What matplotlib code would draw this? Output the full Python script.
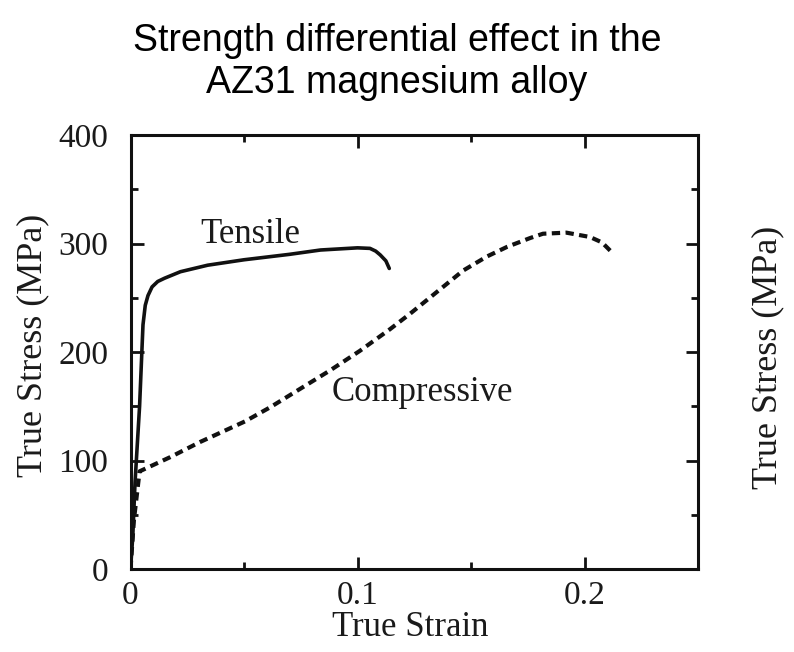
import matplotlib
matplotlib.use("Agg")
import matplotlib.pyplot as plt
from matplotlib.ticker import MultipleLocator

# True stress-strain data for AZ31 magnesium alloy
tensile_strain = [0.0, 0.001, 0.002, 0.004, 0.0055, 0.0065, 0.0077, 0.0095, 0.012,
                  0.015, 0.022, 0.034, 0.050, 0.070, 0.0837, 0.1000, 0.1055,
                  0.108, 0.110, 0.1125, 0.114]
tensile_stress = [0, 30, 80, 150, 225, 243, 252, 260, 265,
                  268, 274, 280, 285, 290, 294, 296, 295.5,
                  293, 289.5, 284, 277]

compressive_strain = [0.0, 0.0015, 0.004, 0.0174, 0.0306, 0.0504, 0.0615, 0.0747,
                      0.0879, 0.101, 0.1143, 0.123, 0.1377, 0.1465, 0.157, 0.166,
                      0.176, 0.1817, 0.192, 0.2024, 0.2077, 0.212]
compressive_stress = [0, 45, 90, 103, 117, 136, 149, 166,
                      183, 201, 221, 235, 260, 275, 288, 297,
                      305, 309, 310, 306, 301, 292]

x_ticks = [0, 0.1, 0.2]
x_tick_labels = ["0", "0.1", "0.2"]
y_ticks = [0, 100, 200, 300, 400]
y_tick_labels = ["0", "100", "200", "300", "400"]

W, H = 794, 652
fig = plt.figure(figsize=(W / 100, H / 100), dpi=100)
serif = "Liberation Serif"
ink = "#1a1a1a"

ax = fig.add_axes([130.5 / W, 1 - 569 / H, (698 - 130.5) / W, (569 - 135) / H])
ax.plot(tensile_strain, tensile_stress, color="#111111", lw=2.6,
        solid_capstyle="round", solid_joinstyle="round")
ax.plot(compressive_strain, compressive_stress, color="#111111", lw=3.0,
        linestyle=(0, (2.0, 1.3)))

ax.set_xlim(0, 0.25)
ax.set_ylim(0, 400)
ax.set_xticks(x_ticks)
ax.set_xticklabels(x_tick_labels)
ax.set_yticks(y_ticks)
ax.set_yticklabels(y_tick_labels)
ax.xaxis.set_minor_locator(MultipleLocator(0.05))
ax.yaxis.set_minor_locator(MultipleLocator(50))
ax.tick_params(which="both", direction="in", top=True, right=True, width=2,
               color="#111111")
ax.tick_params(which="major", length=9)
ax.tick_params(which="minor", length=5)
ax.tick_params(axis="y", which="major", pad=16)
ax.tick_params(axis="x", which="major", pad=8)
for lab in ax.get_xticklabels() + ax.get_yticklabels():
    lab.set_fontfamily(serif)
    lab.set_fontsize(24)
    lab.set_color(ink)
for sp in ax.spines.values():
    sp.set_linewidth(2.2)
    sp.set_color("#111111")

ax.text(0.053, 308, "Tensile", family=serif, fontsize=25, color=ink,
        ha="center", va="center")
ax.text(0.1285, 163, "Compressive", family=serif, fontsize=25, color=ink,
        ha="center", va="center")

fig.text(410 / W, 1 - 628 / H, "True Strain", family=serif, fontsize=25,
         color=ink, ha="center", va="center")
fig.text(33 / W, 1 - 345 / H, "True Stress (MPa)", family=serif, fontsize=26,
         color=ink, ha="center", va="center", rotation=90)
fig.text(768 / W, 1 - 357 / H, "True Stress (MPa)", family=serif, fontsize=26,
         color=ink, ha="center", va="center", rotation=90)

fig.text(397 / W, 1 - 62 / H,
         "Strength differential effect in the\nAZ31 magnesium alloy",
         family="Liberation Sans", fontsize=27, ha="center", va="center",
         linespacing=1.2)

fig.savefig("out.png", dpi=100, facecolor="white")
